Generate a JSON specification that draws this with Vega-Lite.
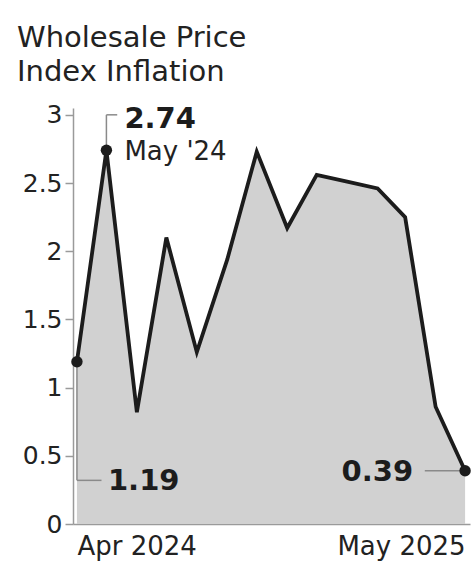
{
  "$schema": "https://vega.github.io/schema/vega-lite/v6.json",
  "width": 397,
  "height": 416,
  "autosize": "none",
  "padding": {"left": 73, "top": 108, "right": 3, "bottom": 55},
  "background": "white",
  "config": {
    "font": "DejaVu Sans",
    "view": {"stroke": null}
  },
  "title": {
    "text": ["Wholesale Price", "Index Inflation"],
    "anchor": "start",
    "frame": "group",
    "dx": -56,
    "offset": 16,
    "fontSize": 29,
    "lineHeight": 34,
    "fontWeight": "normal",
    "color": "#222222"
  },
  "datasets": {
    "wpi": [
      {"month": "2024-04-01", "wpi": 1.19},
      {"month": "2024-05-01", "wpi": 2.74},
      {"month": "2024-06-01", "wpi": 0.82},
      {"month": "2024-07-01", "wpi": 2.1},
      {"month": "2024-08-01", "wpi": 1.26},
      {"month": "2024-09-01", "wpi": 1.94},
      {"month": "2024-10-01", "wpi": 2.73},
      {"month": "2024-11-01", "wpi": 2.17},
      {"month": "2024-12-01", "wpi": 2.56},
      {"month": "2025-01-01", "wpi": 2.51},
      {"month": "2025-02-01", "wpi": 2.46},
      {"month": "2025-03-01", "wpi": 2.25},
      {"month": "2025-04-01", "wpi": 0.86},
      {"month": "2025-05-01", "wpi": 0.39}
    ],
    "notes": [
      {"month": "2024-04-01", "wpi": 1.19, "label": "1.19", "sub": ""},
      {"month": "2024-05-01", "wpi": 2.74, "label": "2.74", "sub": "May '24"},
      {"month": "2025-05-01", "wpi": 0.39, "label": "0.39", "sub": ""}
    ]
  },
  "encoding": {
    "x": {
      "field": "month",
      "type": "temporal",
      "scale": {
        "type": "utc",
        "domain": [
          {"year": 2024, "month": 3, "date": 28, "utc": true},
          {"year": 2025, "month": 5, "date": 6, "utc": true}
        ]
      },
      "axis": {
        "title": null,
        "values": [
          {"year": 2024, "month": 4, "date": 1, "utc": true},
          {"year": 2025, "month": 5, "date": 1, "utc": true}
        ],
        "format": "%b %Y",
        "labelFlush": 12,
        "labelFlushOffset": 0,
        "ticks": false,
        "grid": false,
        "domainColor": "#9a9a9a",
        "domainWidth": 1.5,
        "labelFontSize": 26,
        "labelColor": "#222222",
        "labelPadding": 9
      }
    },
    "y": {
      "field": "wpi",
      "type": "quantitative",
      "scale": {"domain": [0, 3.05], "nice": false, "zero": true},
      "axis": {
        "title": null,
        "values": [0, 0.5, 1, 1.5, 2, 2.5, 3],
        "format": "~f",
        "grid": false,
        "domainColor": "#9a9a9a",
        "domainWidth": 1.5,
        "tickColor": "#9a9a9a",
        "tickWidth": 1.5,
        "tickSize": 8,
        "labelFontSize": 25,
        "labelColor": "#222222",
        "labelPadding": 3
      }
    }
  },
  "layer": [
    {
      "data": {"name": "wpi"},
      "mark": {
        "type": "area",
        "color": "#d1d1d1",
        "opacity": 1,
        "line": {"color": "#1c1c1c", "strokeWidth": 3.8, "strokeJoin": "miter"}
      }
    },
    {
      "data": {"name": "notes"},
      "transform": [{"filter": "datum.label == '2.74'"}],
      "mark": {"type": "rule", "color": "#8a8a8a", "strokeWidth": 1.5},
      "encoding": {"y2": {"datum": 3}}
    },
    {
      "data": {"name": "notes"},
      "transform": [{"filter": "datum.label == '2.74'"}],
      "mark": {"type": "rule", "color": "#8a8a8a", "strokeWidth": 1.5},
      "encoding": {
        "y": {"datum": 3},
        "x2": {"datum": {"year": 2024, "month": 5, "date": 12, "utc": true}}
      }
    },
    {
      "data": {"name": "notes"},
      "transform": [{"filter": "datum.label == '1.19'"}],
      "mark": {"type": "rule", "color": "#8a8a8a", "strokeWidth": 1.5},
      "encoding": {"y2": {"datum": 0.32}}
    },
    {
      "data": {"name": "notes"},
      "transform": [{"filter": "datum.label == '1.19'"}],
      "mark": {"type": "rule", "color": "#8a8a8a", "strokeWidth": 1.5},
      "encoding": {
        "y": {"datum": 0.32},
        "x2": {"datum": {"year": 2024, "month": 4, "date": 26, "utc": true}}
      }
    },
    {
      "data": {"name": "notes"},
      "transform": [{"filter": "datum.label == '0.39'"}],
      "mark": {"type": "rule", "color": "#8a8a8a", "strokeWidth": 1.5},
      "encoding": {
        "x2": {"datum": {"year": 2025, "month": 3, "date": 21, "utc": true}}
      }
    },
    {
      "data": {"name": "notes"},
      "mark": {"type": "point", "filled": true, "color": "#1c1c1c", "opacity": 1, "size": 130}
    },
    {
      "data": {"name": "notes"},
      "transform": [{"filter": "datum.label == '2.74'"}],
      "mark": {"type": "text", "align": "left", "baseline": "middle", "dx": 18, "dy": 4, "fontSize": 29, "fontWeight": "bold", "color": "#1c1c1c"},
      "encoding": {"y": {"datum": 3}, "text": {"field": "label"}}
    },
    {
      "data": {"name": "notes"},
      "transform": [{"filter": "datum.label == '2.74'"}],
      "mark": {"type": "text", "align": "left", "baseline": "middle", "dx": 18, "dy": 2, "fontSize": 26, "color": "#222222"},
      "encoding": {"text": {"field": "sub"}}
    },
    {
      "data": {"name": "notes"},
      "transform": [{"filter": "datum.label == '1.19'"}],
      "mark": {"type": "text", "align": "left", "baseline": "middle", "dx": 31, "dy": 1, "fontSize": 29, "fontWeight": "bold", "color": "#1c1c1c"},
      "encoding": {"y": {"datum": 0.32}, "text": {"field": "label"}}
    },
    {
      "data": {"name": "notes"},
      "transform": [{"filter": "datum.label == '0.39'"}],
      "mark": {"type": "text", "align": "right", "baseline": "middle", "dx": -52, "dy": 1, "fontSize": 29, "fontWeight": "bold", "color": "#1c1c1c"},
      "encoding": {"text": {"field": "label"}}
    }
  ]
}
